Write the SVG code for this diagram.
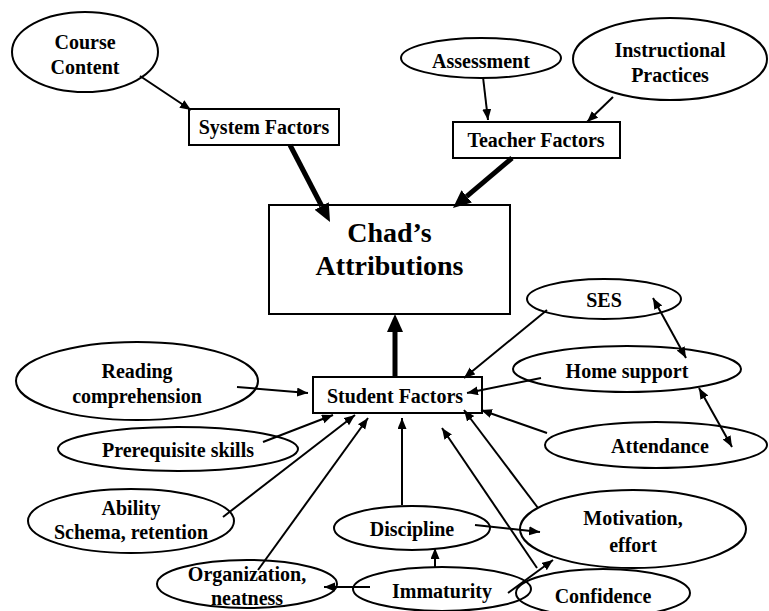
<svg xmlns="http://www.w3.org/2000/svg" width="769" height="611" viewBox="0 0 769 611">
<style>
  .n { fill: none; stroke: #000; stroke-width: 2; }
  .b { fill: #fff; stroke: #000; stroke-width: 2; }
  .lbl text { font-family: "Times New Roman", "Liberation Serif", Tinos, "Noto Serif", "DejaVu Serif", FreeSerif, serif; font-weight: bold; font-size: 20px; fill: #000; text-anchor: middle; }
  .lbl text.big { font-size: 28px; }
  .c { stroke: #000; stroke-width: 2; fill: none; marker-end: url(#ah); }
  .d { marker-start: url(#ah); }
  .t { stroke: #000; stroke-width: 5; fill: none; marker-end: url(#th); }
</style>
<defs>
  <marker id="ah" markerUnits="userSpaceOnUse" markerWidth="12" markerHeight="10" refX="11" refY="4.5" orient="auto-start-reverse">
    <path d="M0,0 L11,4.5 L0,9 z" fill="#000"/>
  </marker>
  <marker id="th" markerUnits="userSpaceOnUse" markerWidth="20" markerHeight="18" refX="0" refY="8" orient="auto">
    <path d="M0,0 L18,8 L0,16 z" fill="#000"/>
  </marker>
</defs>
<rect width="769" height="611" fill="#fff"/>

<g class="lbl">
<g id="course"><ellipse class="n" cx="85" cy="52" rx="73" ry="40"/><text x="85" y="49">Course</text><text x="85" y="74">Content</text></g>
<g id="system"><rect class="b" x="189" y="109" width="150" height="36"/><text x="264" y="134">System Factors</text></g>
<g id="assessment"><ellipse class="n" cx="481" cy="58" rx="80" ry="20"/><text x="481" y="68">Assessment</text></g>
<g id="instructional"><ellipse class="n" cx="670" cy="59" rx="97" ry="41"/><text x="670" y="57">Instructional</text><text x="670" y="82">Practices</text></g>
<g id="teacher"><rect class="b" x="453" y="122" width="167" height="36"/><text x="536" y="147">Teacher Factors</text></g>
<g id="chad"><rect class="b" x="269" y="205" width="241" height="109"/><text class="big" x="389.5" y="242">Chad’s</text><text class="big" x="389.5" y="275">Attributions</text></g>
<g id="ses"><ellipse class="n" cx="604" cy="299" rx="77" ry="20"/><text x="604" y="307">SES</text></g>
<g id="home"><ellipse class="n" cx="627" cy="369" rx="114" ry="23"/><text x="627" y="378">Home support</text></g>
<g id="attendance"><ellipse class="n" cx="656" cy="445" rx="111" ry="23"/><text x="660" y="453">Attendance</text></g>
<g id="student"><rect class="b" x="313" y="377" width="169" height="36"/><text x="395" y="403">Student Factors</text></g>
<g id="reading"><ellipse class="n" cx="137" cy="381" rx="121" ry="39"/><text x="137" y="378">Reading</text><text x="137" y="403">comprehension</text></g>
<g id="prereq"><ellipse class="n" cx="178" cy="449" rx="120" ry="22"/><text x="178" y="457">Prerequisite skills</text></g>
<g id="ability"><ellipse class="n" cx="131" cy="521" rx="103" ry="32"/><text x="131" y="515">Ability</text><text x="131" y="539">Schema, retention</text></g>
<g id="organization"><ellipse class="n" cx="247" cy="584" rx="90" ry="24"/><text x="247" y="581">Organization,</text><text x="247" y="605">neatness</text></g>
<g id="discipline"><ellipse class="n" cx="412" cy="528" rx="78" ry="22"/><text x="412" y="536">Discipline</text></g>
<g id="motivation"><ellipse class="n" cx="633" cy="529" rx="113" ry="39"/><text x="633" y="525">Motivation,</text><text x="633" y="552">effort</text></g>
<g id="immaturity"><ellipse class="n" cx="442" cy="589" rx="89" ry="22"/><text x="442" y="598">Immaturity</text></g>
<g id="confidence"><ellipse class="n" cx="603" cy="593" rx="87" ry="24"/><text x="603" y="603">Confidence</text></g>
</g>

<g id="connectors">
  <path class="c" d="M140,76 L191,110"/>
  <path class="c" d="M483,77 L488,120"/>
  <path class="c" d="M613,97 L587,122"/>
  <path class="t" d="M290,145 L321.7,206"/>
  <path class="t" d="M512,158 L466.7,196.4"/>
  <path class="t" d="M395,377 L395,332"/>
  <path class="c" d="M547,310 L464,378"/>
  <path class="c" d="M541,378 L467,393"/>
  <path class="c" d="M547,433 L481,410"/>
  <path class="c d" d="M653,298 L686,358"/>
  <path class="c d" d="M699,388 L732,447"/>
  <path class="c" d="M237,387 L308,393"/>
  <path class="c" d="M263,442 L333,415"/>
  <path class="c" d="M223,517 L355,415"/>
  <path class="c" d="M258,570 L368,418"/>
  <path class="c" d="M402,505 L402,418"/>
  <path class="c" d="M537,568 L442,428"/>
  <path class="c" d="M538,508 L464,410"/>
  <path class="c" d="M475,525 L540,532"/>
  <path class="c" d="M435,567 L435,548"/>
  <path class="c" d="M370,587 L324,587"/>
  <path class="c" d="M508,593 L553,560"/>
</g>
</svg>
